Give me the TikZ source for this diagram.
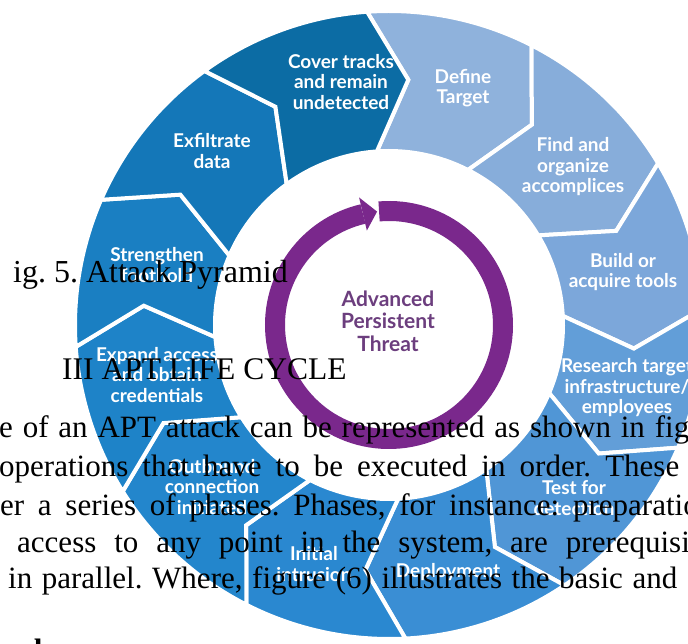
\documentclass[tikz,border=0pt]{standalone}
\usepackage{fontspec}
\setmainfont{Liberation Serif}
\newfontfamily\labelfont{Lato}
\usetikzlibrary{calc}
\frenchspacing

% phase colours, light (start of the cycle) to dark (end of the cycle)
\definecolor{cDefine}{RGB}{143,178,220}
\definecolor{cFind}{RGB}{135,173,218}
\definecolor{cBuild}{RGB}{124,167,218}
\definecolor{cResearch}{RGB}{98,158,216}
\definecolor{cTest}{RGB}{80,150,214}
\definecolor{cDeploy}{RGB}{58,142,212}
\definecolor{cInitial}{RGB}{42,136,208}
\definecolor{cOutbound}{RGB}{35,134,204}
\definecolor{cExpand}{RGB}{30,131,200}
\definecolor{cStrengthen}{RGB}{26,127,194}
\definecolor{cExfil}{RGB}{20,119,184}
\definecolor{cCover}{RGB}{12,108,164}
\definecolor{aptPurple}{RGB}{122,40,140}
\definecolor{aptText}{RGB}{108,62,126}

\tikzset{
  phaseseg/.style={fill=#1, draw=white, line width=4pt, line join=miter},
  seglabel/.style={text=white, inner sep=0pt, align=center,
    font=\labelfont\bfseries\fontsize{19}{20.5}\selectfont},
  centrelabel/.style={text=aptText, inner sep=0pt, align=center,
    font=\labelfont\bfseries\fontsize{21}{22.5}\selectfont},
  papertext/.style={anchor=base west, inner sep=0pt, text=black,
    font=\fontsize{31}{37}\selectfont},
}

\begin{document}
\begin{tikzpicture}[x=1pt,y=1pt]
\useasboundingbox (0,0) rectangle (688,643);
\clip (0,0) rectangle (688,643);
\fill[white] (0,0) rectangle (688,643);

\coordinate (c) at (389,318);

% twelve chevron segments of the life cycle, clockwise
\foreach \a/\b/\col in {94/63/cDefine, 63/31/cFind, 31/3/cBuild,
    3/-23/cResearch, -23/-56/cTest, -56/-87/cDeploy, -87/-117/cInitial,
    -117/-148/cOutbound, -148/-176/cExpand, -176/-203.5/cStrengthen,
    -203.5/-234/cExfil, -234/-266/cCover}{
  \filldraw[phaseseg=\col]
    ([shift={(c)}]\a:314pt) arc[start angle=\a, end angle=\b, radius=314pt]
    -- ([shift={(c)}]{\b-8.5}:246pt)
    -- ([shift={(c)}]\b:174pt) arc[start angle=\b, end angle=\a, radius=174pt]
    -- ([shift={(c)}]{\a-8.5}:246pt) -- cycle;
}

% circular arrow around the centre
\draw[aptPurple, line width=20pt]
  ([shift={(c)}]95:114pt) arc[start angle=95, end angle=-256.8, radius=114pt];
\fill[aptPurple] ([shift={(c)}]103.2:97pt) -- ([shift={(c)}]96:114pt)
  -- ([shift={(c)}]103.2:131pt) -- cycle;

\node[centrelabel] (apt) at (388,322) {Advanced\\Persistent\\Threat};

% phase labels
\node[seglabel] (lCover)      at (341,561) {Cover tracks\\and remain\\undetected};
\node[seglabel] (lDefine)     at (463,555) {Define\\Target};
\node[seglabel] (lFind)       at (573,476) {Find and\\organize\\accomplices};
\node[seglabel] (lBuild)      at (623,371) {Build or\\acquire tools};
\node[seglabel] (lResearch)   at (627,255) {Research target\\infrastructure/\\employees};
\node[seglabel] (lTest)       at (574,145) {Test for\\detection};
\node[seglabel] (lDeploy)     at (448,71)  {Deployment};
\node[seglabel] (lInitial)    at (314,79)  {Initial\\intrusion};
\node[seglabel] (lOutbound)   at (212,156) {Outbound\\connection\\initiated};
\node[seglabel] (lExpand)     at (157,268) {Expand access\\and obtain\\credentials};
\node[seglabel] (lStrengthen) at (157,378) {Strengthen\\foothold};
\node[seglabel] (lExfil)      at (212,492) {Exfiltrate\\data};

% page text set over the figure
\node[papertext, font=\fontsize{32}{37}\selectfont] (caption) at (13,360) {ig. 5. Attack Pyramid};
\node[papertext, font=\fontsize{31.5}{37}\selectfont] (heading) at (62,263) {III APT LIFE CYCLE};
\node[papertext] (line1) at (-1,205)
  {\makebox[690pt][s]{e of an APT attack can be represented as shown in fig}};
\node[papertext] (line2) at (-1,166)
  {\makebox[680pt][s]{operations that have to be executed in order. These}};
\node[papertext] (line3) at (0,128)
  {\makebox[714pt][s]{er a series of phases. Phases, for instance: preparation}};
\node[papertext] (line4) at (17,91)
  {\makebox[695pt][s]{access to any point in the system, are prerequisite}};
\node[papertext] (line5) at (8,55)
  {\makebox[669pt][s]{in parallel. Where, figure (6) illustrates the basic and}};
\node[papertext, font=\bfseries\fontsize{31}{37}\selectfont] (line6) at (25,-17) {d};
\end{tikzpicture}
\end{document}
